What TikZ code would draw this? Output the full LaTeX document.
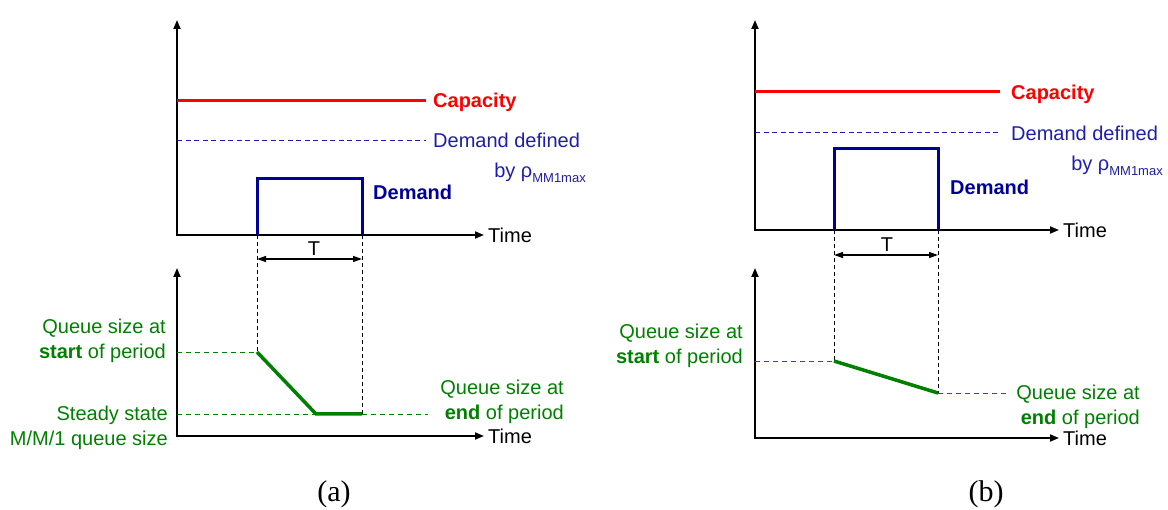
\documentclass[tikz,border=0pt]{standalone}
\usepackage{fontspec}
\setmainfont{Liberation Sans}
\newfontfamily\capfont{Liberation Serif}
\usetikzlibrary{arrows.meta}
\definecolor{capred}{RGB}{255,0,0}
\definecolor{dblue}{RGB}{0,0,153}
\definecolor{lblue}{RGB}{30,30,170}
\definecolor{qgreen}{RGB}{0,128,0}
\newcommand{\rhosub}{ρ\raisebox{-5pt}{\fontsize{13}{13}\selectfont MM1max}}

\begin{document}
\begin{tikzpicture}[x=1pt,y=-1pt,
  axis/.style={black,line width=1.8pt,{Triangle[length=9pt,width=7pt]}-{Triangle[length=9pt,width=7pt]}},
  capline/.style={capred,line width=3pt},
  refline/.style={lblue,line width=0.9pt,dash pattern=on 5pt off 3.5pt},
  pulse/.style={dblue,line width=3pt,line join=miter},
  guide/.style={black,line width=0.9pt,dash pattern=on 4pt off 3pt},
  qline/.style={qgreen,line width=3.5pt},
  qguide/.style={qgreen,line width=0.9pt,dash pattern=on 5pt off 4pt},
  span/.style={black,line width=1.3pt,{Triangle[length=9pt,width=6pt]}-{Triangle[length=9pt,width=6pt]}},
  lbl/.style={inner sep=0pt,font=\fontsize{20}{25}\selectfont},
  caplbl/.style={lbl,capred,font=\fontsize{20}{25}\selectfont\bfseries},
  reflbl/.style={lbl,lblue},
  demlbl/.style={lbl,dblue,font=\fontsize{20}{25}\selectfont\bfseries},
  qlbl/.style={lbl,qgreen,align=right},
  sub/.style={inner sep=0pt,font=\fontsize{30}{32}\selectfont\capfont}
]
\useasboundingbox (0,0) rectangle (1168,510);

% ---------------- panel (a): demand over time ----------------
\coordinate (a-yt) at (177,20);
\coordinate (a-o)  at (177,235);
\coordinate (a-xt) at (484,235);
\draw[axis] (a-yt) -- (a-o) -- (a-xt);
\node[lbl,anchor=base west] (a-time) at (488,243) {Time};

\coordinate (a-c0) at (177,101);
\coordinate (a-c1) at (426,101);
\draw[capline] (a-c0) -- (a-c1);
\node[caplbl,anchor=base west] (a-cap) at (433,108) {Capacity};

\coordinate (a-r0) at (177,140);
\coordinate (a-r1) at (426,140);
\draw[refline] (a-r0) -- (a-r1);
\node[reflbl,anchor=base west] (a-ref1) at (433,148) {Demand defined};
\node[reflbl,anchor=base east] (a-ref2) at (586,178) {by \rhosub};

\coordinate (a-p0) at (257,235);
\coordinate (a-p1) at (257,179);
\coordinate (a-p2) at (362,179);
\coordinate (a-p3) at (362,235);
\draw[pulse] (a-p0) -- (a-p1) -- (a-p2) -- (a-p3);
\node[demlbl,anchor=base west] (a-dem) at (373,200) {Demand};

% ---------------- panel (a): queue size ----------------
\coordinate (a-qyt) at (177,268);
\coordinate (a-qo)  at (177,436);
\coordinate (a-qxt) at (484,436);
\draw[axis] (a-qyt) -- (a-qo) -- (a-qxt);
\node[lbl,anchor=base west] (a-qtime) at (488,444) {Time};

\coordinate (a-q0) at (257,352);
\coordinate (a-q1) at (316,414);
\coordinate (a-q2) at (362,414);
\coordinate (a-s0) at (177,352);
\coordinate (a-s1) at (177,414);
\coordinate (a-s2) at (428,414);
\draw[guide] (a-p0) -- (a-q0);
\draw[guide] (a-p3) -- (a-q2);
\coordinate (a-tl) at (257,259);
\coordinate (a-tr) at (362,259);
\draw[span] (a-tl) -- (a-tr);
\node[lbl,anchor=base] (a-T) at (314,256) {T};

\draw[qguide] (a-s0) -- (a-q0);
\draw[qguide] (a-s1) -- (a-q1);
\draw[qguide] (a-q2) -- (a-s2);
\draw[qline] (a-q0) -- (a-q1) -- (a-q2);

\node[qlbl,anchor=east] (a-start) at (166,341) {Queue size at\\\textbf{start} of period};
\node[qlbl,anchor=east] (a-steady) at (168,428) {Steady state\\M/M/1 queue size};
\node[qlbl,anchor=east] (a-end) at (564,402) {Queue size at\\\textbf{end} of period};

\node[sub] (a-cap-sub) at (334,494) {(a)};

% ---------------- panel (b): demand over time ----------------
\coordinate (b-yt) at (755,20);
\coordinate (b-o)  at (755,230);
\coordinate (b-xt) at (1059,230);
\draw[axis] (b-yt) -- (b-o) -- (b-xt);
\node[lbl,anchor=base west] (b-time) at (1063,238) {Time};

\coordinate (b-c0) at (755,92);
\coordinate (b-c1) at (1000,92);
\draw[capline] (b-c0) -- (b-c1);
\node[caplbl,anchor=base west] (b-cap) at (1011,100) {Capacity};

\coordinate (b-r0) at (755,132);
\coordinate (b-r1) at (1000,132);
\draw[refline] (b-r0) -- (b-r1);
\node[reflbl,anchor=base west] (b-ref1) at (1011,141) {Demand defined};
\node[reflbl,anchor=base east] (b-ref2) at (1163,171) {by \rhosub};

\coordinate (b-p0) at (834,230);
\coordinate (b-p1) at (834,149);
\coordinate (b-p2) at (938,149);
\coordinate (b-p3) at (938,230);
\draw[pulse] (b-p0) -- (b-p1) -- (b-p2) -- (b-p3);
\node[demlbl,anchor=base west] (b-dem) at (950,195) {Demand};

% ---------------- panel (b): queue size ----------------
\coordinate (b-qyt) at (755,268);
\coordinate (b-qo)  at (755,438);
\coordinate (b-qxt) at (1059,438);
\draw[axis] (b-qyt) -- (b-qo) -- (b-qxt);
\node[lbl,anchor=base west] (b-qtime) at (1063,446) {Time};

\coordinate (b-q0) at (834,361);
\coordinate (b-q1) at (938,393);
\coordinate (b-s0) at (755,361);
\coordinate (b-s1) at (1010,393);
\draw[guide] (b-p0) -- (b-q0);
\draw[guide] (b-p3) -- (b-q1);
\coordinate (b-tl) at (834,255);
\coordinate (b-tr) at (938,255);
\draw[span] (b-tl) -- (b-tr);
\node[lbl,anchor=base] (b-T) at (887,252) {T};

\draw[qguide] (b-s0) -- (b-q0);
\draw[qguide] (b-q1) -- (b-s1);
\draw[qline] (b-q0) -- (b-q1);

\node[qlbl,anchor=east] (b-start) at (743,346) {Queue size at\\\textbf{start} of period};
\node[qlbl,anchor=east] (b-end) at (1140,407) {Queue size at\\\textbf{end} of period};

\node[sub] (b-cap-sub) at (986,494) {(b)};
\end{tikzpicture}
\end{document}
